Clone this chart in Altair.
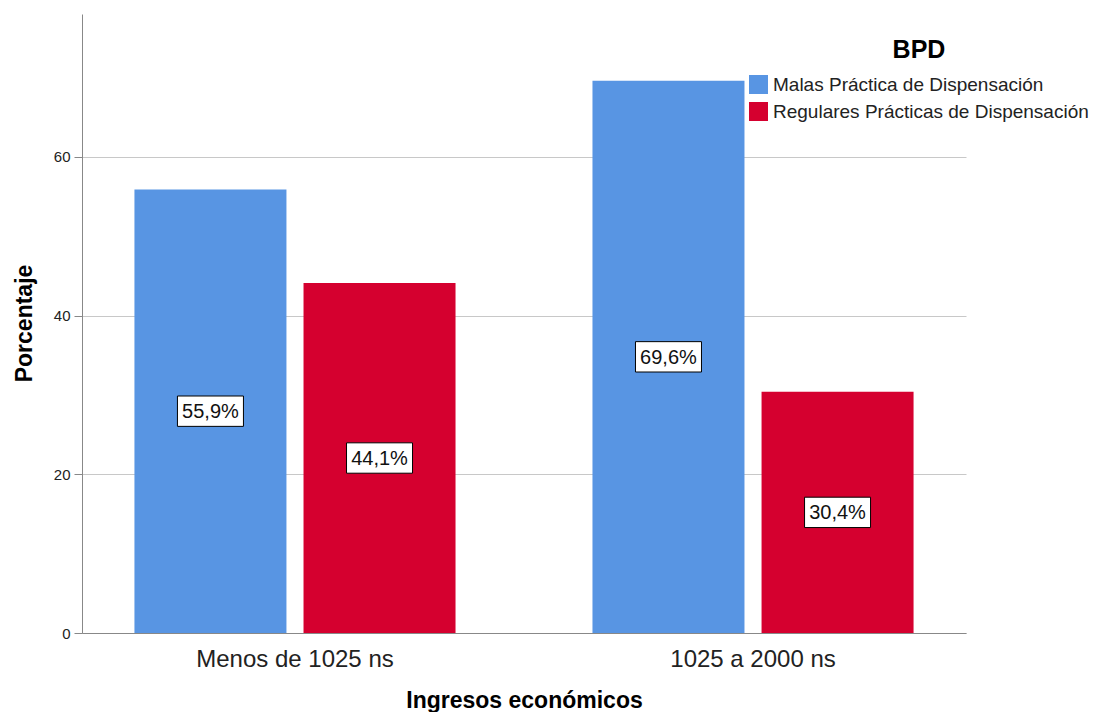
import altair as alt
import pandas as pd

categories = ["Menos de 1025 ns", "1025 a 2000 ns"]
series = ["Malas Práctica de Dispensación", "Regulares Prácticas de Dispensación"]
malas = [55.9, 69.6]
regulares = [44.1, 30.4]
colors = ["#5895E3", "#D5002F"]

rows = []
for i, c in enumerate(categories):
    for s, v in zip(series, [malas[i], regulares[i]]):
        rows.append({"ingreso": c, "bpd": s, "pct": v, "mid": v / 2,
                     "label": f"{v:.1f}%".replace(".", ",")})
df = pd.DataFrame(rows)

FONT = "Liberation Sans"

x = alt.X("ingreso:N", sort=categories, title="Ingresos económicos",
          scale=alt.Scale(paddingInner=0.299, paddingOuter=0.1145),
          axis=alt.Axis(labelAngle=0, labelFontSize=24, labelColor="#222",
                        labelPadding=14, ticks=False, titleFontSize=23,
                        titleFontWeight="bold", titlePadding=18, labelLimit=500,
                        domainColor="#888", labelFont=FONT, titleFont=FONT))
xo = alt.XOffset("bpd:N", sort=series,
                 scale=alt.Scale(paddingInner=0.101, paddingOuter=0))
yscale = alt.Scale(domain=[0, 78], nice=False)
yaxis = alt.Axis(values=[0, 20, 40, 60], grid=True, gridColor="#c8c8c8",
                 tickColor="#888", tickSize=8, domainColor="#888",
                 labelFontSize=15, labelColor="#222", labelPadding=4,
                 titleFontSize=23, titleFontWeight="bold", titleX=-51,
                 titleY=309, titleBaseline="alphabetic", labelFont=FONT,
                 titleFont=FONT)

bars = alt.Chart(df).mark_bar().encode(
    x=x, xOffset=xo,
    y=alt.Y("pct:Q", scale=yscale, axis=yaxis, title="Porcentaje"),
    color=alt.Color("bpd:N", sort=series,
                    scale=alt.Scale(domain=series, range=colors),
                    legend=alt.Legend(title="BPD", orient="none", legendX=667,
                                      legendY=24, symbolType="square",
                                      symbolSize=360, symbolStrokeWidth=0,
                                      symbolOpacity=1, labelFontSize=19,
                                      labelColor="#222", labelOffset=5,
                                      titleFontSize=25, titleFontWeight="bold",
                                      titleAnchor="middle", titlePadding=12,
                                      rowPadding=7, labelFont=FONT,
                                      titleFont=FONT, labelLimit=400)),
)

boxes = alt.Chart(df).mark_point(
    shape="M-1,-0.46H1V0.46H-1Z", size=4356, filled=True, fill="white",
    stroke="black", strokeWidth=1, opacity=1, fillOpacity=1,
).encode(x=x, xOffset=xo,
         y=alt.Y("mid:Q", scale=yscale, axis=yaxis, title="Porcentaje"))

texts = alt.Chart(df).mark_text(fontSize=20, font=FONT, color="#111",
                                baseline="middle", dy=1).encode(
    x=x, xOffset=xo,
    y=alt.Y("mid:Q", scale=yscale, axis=yaxis, title="Porcentaje"),
    text="label:N")

chart = alt.layer(bars, boxes, texts).properties(
    width=884, height=619,
    autosize=alt.AutoSizeParams(type="none"),
    padding={"left": 74, "top": 6, "right": 136, "bottom": 79},
).configure_view(stroke=None).configure_axis(labelFont=FONT, titleFont=FONT)

chart.save("out.html", embed_options={"renderer": "svg", "actions": False})
